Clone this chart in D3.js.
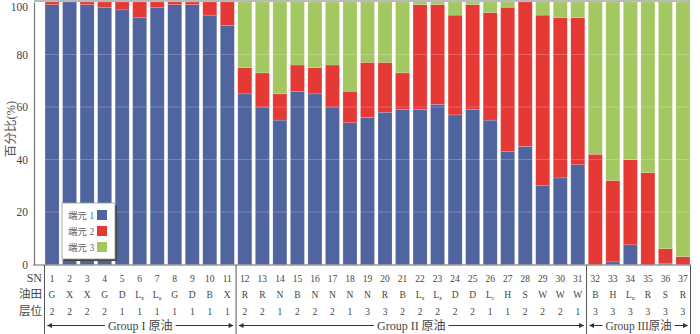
<!DOCTYPE html>
<html><head><meta charset="utf-8">
<script src="https://cdn.jsdelivr.net/npm/d3@7"></script>
<style>body{margin:0;background:#fff}svg{display:block}</style>
</head><body><svg id="c" width="700" height="334"></svg>
<script>
const sn = d3.range(1, 38).map(String);
const end1 = [99,100,99,98,97,94,98,99,99,95,91, 65,60,55,66,65,60,54,56,58,59,59,61,57,59,55,43,45,30,33,38, 0,1,7.5,0,0.5,0];
const end2 = [1,0,1,2,3,6,2,1,1,5,9, 10,13,10,10,10,16,12,21,19,14,40,38,38,40,41,55,55,65,61,56, 42,31,32.5,35,5.5,3];
const end3 = [0,0,0,0,0,0,0,0,0,0,0, 25,27,35,24,25,24,34,23,23,27,1,1,5,1,4,2,0,5,6,6, 58,68,60,65,94,97];
const fields = ["G","X","X","G","D","L|x","L|u","G","D","B","X","R","R","N","B","N","N","N","N","R","B","L|x","L|x","D","D","L|c","H","S","W","W","W","B","H","L|u","R","S","R"];
const layers = [2,2,2,2,1,1,1,1,1,1,1,2,2,1,2,2,2,1,3,3,2,2,2,2,2,1,1,2,2,2,1,3,3,3,3,3,3];
const yTicks = [0,20,40,60,80,100];
const seriesNames = ["端元 1","端元 2","端元 3"];
const seriesColors = ["#5064a0","#e53935","#a3c862"];
const groups = [{label:"Group I 原油", from:0, to:10},{label:"Group II 原油", from:11, to:30},{label:"Group III原油", from:31, to:36}];

const svg = d3.select("#c");
const x = d3.scaleBand().domain(sn).range([43.3, 691.7]).paddingInner(0.2).paddingOuter(0.1);
const y = d3.scaleLinear().domain([0,100]).range([264.5, 2]);
const serif = "'Liberation Serif','DejaVu Serif',serif";
const cjk = "'Liberation Serif','Noto Sans CJK SC',serif";
const tc = "#444";

const rows = sn.map((s,i)=>({sn:s, e1:end1[i], e2:end2[i], e3:end3[i]}));
const stack = d3.stack().keys(["e1","e2","e3"])(rows);

svg.append("g").selectAll("g").data(stack).join("g")
  .attr("fill",(d,i)=>seriesColors[i])
  .selectAll("rect").data(d=>d).join("rect")
  .attr("x",d=>x(d.data.sn)).attr("width",x.bandwidth())
  .attr("y",d=>y(d[1])).attr("height",d=>Math.max(0,y(d[0])-y(d[1])))
  .attr("stroke","#fff").attr("stroke-opacity",0.25).attr("stroke-width",0.6);

// faint gridlines over bars
svg.append("g").selectAll("line").data(yTicks.filter(t=>t>0&&t<100)).join("line")
  .attr("x1",34).attr("x2",690).attr("y1",d=>y(d)).attr("y2",d=>y(d))
  .attr("stroke","#fff").attr("stroke-opacity",0.22).attr("stroke-width",1);

// frame
svg.append("line").attr("x1",34).attr("x2",690).attr("y1",1).attr("y2",1).attr("stroke","#777").attr("stroke-width",1.2);
svg.append("line").attr("x1",33).attr("x2",691).attr("y1",265).attr("y2",265).attr("stroke","#666").attr("stroke-width",1);

// y axis
const yAxis = d3.axisLeft(y).tickValues(yTicks).tickSize(0).tickPadding(6);
const ga = svg.append("g").attr("transform","translate(34,0)").call(yAxis);
ga.select(".domain").attr("stroke","#777").attr("stroke-width",1.2);
ga.selectAll("text").attr("font-family",serif).attr("font-size",11.5).attr("fill",tc)
  .attr("dy",d=>d===100?"0.7em":"0.32em");

svg.append("text").attr("transform","translate(15,129) rotate(-90)")
  .attr("text-anchor","middle").attr("font-family",cjk).attr("font-size",12.5).attr("fill","#555").text("百分比(%)");

// table vertical lines
const sepX = [44.5, (x(sn[10])+x.bandwidth()+x(sn[11]))/2, (x(sn[30])+x.bandwidth()+x(sn[31]))/2, 690.5];
svg.append("g").selectAll("line").data(sepX).join("line")
  .attr("x1",d=>d).attr("x2",d=>d).attr("y1",265).attr("y2",334).attr("stroke","#555").attr("stroke-width",1);

// row labels
const rowY = [282, 298, 315];
[["SN",12],["油田",11.5],["层位",11.5]].forEach((r,i)=>{
  svg.append("text").attr("x",42).attr("y",rowY[i]).attr("text-anchor","end")
    .attr("font-family",i==0?serif:cjk).attr("font-size",r[1]).attr("fill",tc).text(r[0]);
});
const cx = s=>x(s)+x.bandwidth()/2;
svg.append("g").selectAll("text").data(sn).join("text")
  .attr("x",cx).attr("y",rowY[0]).attr("text-anchor","middle")
  .attr("font-family",serif).attr("font-size",9.5).attr("fill",tc).text(d=>d);
const ft = svg.append("g").selectAll("text").data(fields).join("text")
  .attr("x",(d,i)=>cx(sn[i])).attr("y",rowY[1]).attr("text-anchor","middle")
  .attr("font-family",serif).attr("font-size",9.5).attr("fill",tc);
ft.each(function(d){
  const p = d.split("|"); const t = d3.select(this);
  t.append("tspan").text(p[0]);
  if(p[1]) t.append("tspan").attr("font-size",6).attr("dy",2).text(p[1]);
});
svg.append("g").selectAll("text").data(layers).join("text")
  .attr("x",(d,i)=>cx(sn[i])).attr("y",rowY[2]).attr("text-anchor","middle")
  .attr("font-family",serif).attr("font-size",9.5).attr("fill",tc).text(d=>d);

// group arrows
const defs = svg.append("defs");
defs.append("marker").attr("id","ah").attr("viewBox","0 0 10 10").attr("refX",9).attr("refY",5)
  .attr("markerWidth",7).attr("markerHeight",5).attr("orient","auto-start-reverse").attr("markerUnits","userSpaceOnUse")
  .append("path").attr("d","M0,0L10,5L0,10z").attr("fill","#333");
const gy = 325.5;
groups.forEach((g,i)=>{
  const l = sepX[i]+3, r = sepX[i+1]-3, m = (sepX[i]+sepX[i+1])/2;
  const t = svg.append("text").attr("x",m).attr("y",gy+4.5).attr("text-anchor","middle")
    .attr("font-family",cjk).attr("font-size",12).attr("fill",tc).text(g.label);
  if (i===2) t.attr("textLength",66).attr("lengthAdjust","spacingAndGlyphs");
  const w = (i===2?66:t.node().getComputedTextLength())/2 + 3;
  svg.append("line").attr("x1",m-w).attr("x2",l).attr("y1",gy).attr("y2",gy).attr("stroke","#333").attr("stroke-width",1).attr("marker-end","url(#ah)");
  svg.append("line").attr("x1",m+w).attr("x2",r).attr("y1",gy).attr("y2",gy).attr("stroke","#333").attr("stroke-width",1).attr("marker-end","url(#ah)");
});

// legend
const lg = svg.append("g").attr("transform","translate(62,203)");
lg.append("rect").attr("x",2).attr("y",2).attr("width",53).attr("height",56).attr("fill","#444");
lg.append("rect").attr("width",53).attr("height",56).attr("fill","#fff").attr("stroke","#999").attr("stroke-width",0.8);
seriesNames.forEach((n,i)=>{
  lg.append("text").attr("x",6).attr("y",16+i*16).attr("font-family",cjk).attr("font-size",9.5).attr("fill","#666").text(n);
  lg.append("rect").attr("x",35).attr("y",7+i*16).attr("width",10).attr("height",10).attr("fill",seriesColors[i]);
});
</script></body></html>
